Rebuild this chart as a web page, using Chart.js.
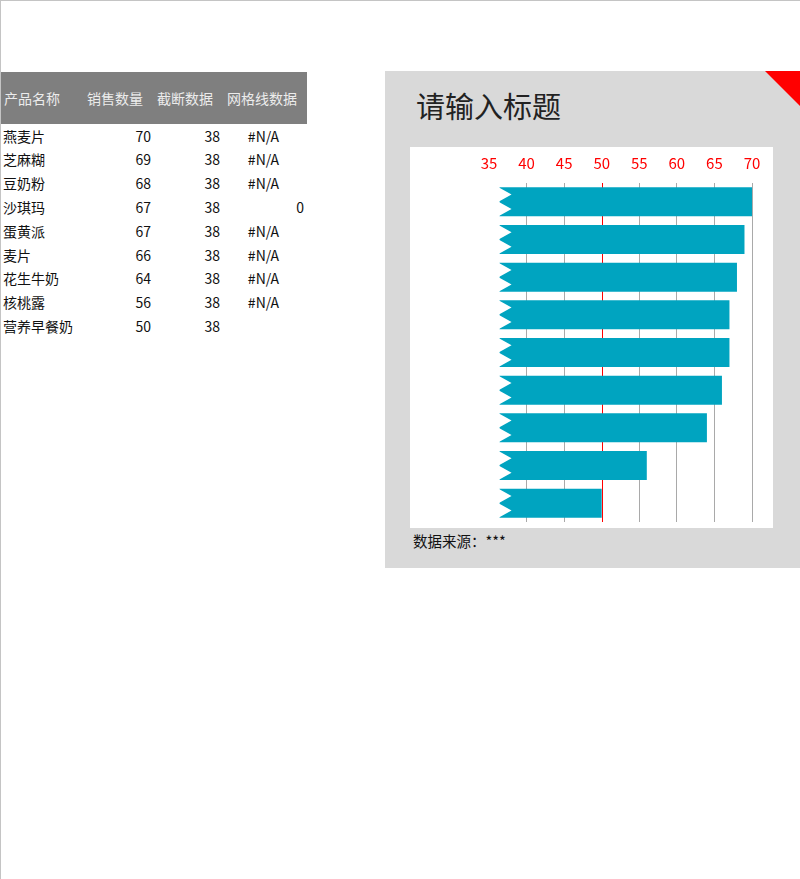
<!DOCTYPE html>
<html lang="zh-CN">
<head>
<meta charset="utf-8">
<title>请输入标题</title>
<script src="https://cdn.jsdelivr.net/npm/chart.js@4.4.1/dist/chart.umd.min.js"></script>
<style>
    html, body { margin: 0; padding: 0; background: #fff; }
    body {
        width: 800px; height: 879px; position: relative; overflow: hidden;
        font-family: 'Noto Sans CJK SC', 'Microsoft YaHei', sans-serif; color: #111;
    }
    .frame {
        position: absolute; left: 0; top: 0; width: 800px; height: 879px; box-sizing: border-box;
        border-top: 1px solid #c4c4c4; border-left: 1px solid #c4c4c4; pointer-events: none;
    }
    /* data sheet on the left */
    .sheet-head {
        position: absolute; left: 0; top: 72px; width: 307px; height: 52px; background: #7f7f7f;
    }
    .cell { position: absolute; font-size: 14px; white-space: nowrap; }
    .sheet-head .cell { color: #ececec; top: 0; line-height: 52px; }
    .row { position: absolute; left: 0; width: 307px; height: 24px; }
    .row .cell { top: 0; line-height: 24px; }
    /* chart panel */
    .panel {
        position: absolute; left: 385px; top: 71px; width: 415px; height: 497px; background: #d9d9d9;
    }
    .corner {
        position: absolute; right: 0; top: 0; width: 0; height: 0;
        border-top: 35px solid #ff0000; border-left: 35px solid transparent;
    }
    .title {
        position: absolute; left: 31px; top: 14px; font-size: 29px; line-height: 40px; color: #222;
    }
    .plot {
        position: absolute; left: 25px; top: 76px; width: 363px; height: 381px; background: #fff;
    }
    .source {
        position: absolute; left: 28px; top: 459px; font-size: 14.5px; line-height: 22px; color: #111;
    }
</style>
</head>
<body>
<div class="sheet-head" id="sheetHead"></div>
<div id="sheetRows"></div>

<div class="panel">
    <div class="corner"></div>
    <div class="title">请输入标题</div>
    <div class="plot"><canvas id="barChart"></canvas></div>
    <div class="source">数据来源：***</div>
</div>
<div class="frame"></div>

<script>
    // 表格 + 图表数据
    const tableHeaders = ['产品名称', '销售数量', '截断数据', '网格线数据'];
    const categories = ['燕麦片', '芝麻糊', '豆奶粉', '沙琪玛', '蛋黄派', '麦片', '花生牛奶', '核桃露', '营养早餐奶'];
    const salesValues = [70, 69, 68, 67, 67, 66, 64, 56, 50];
    const cutoffValues = [38, 38, 38, 38, 38, 38, 38, 38, 38];
    const gridlineValues = ['#N/A', '#N/A', '#N/A', 0, '#N/A', '#N/A', '#N/A', '#N/A', null];
    const axisTicks = [35, 40, 45, 50, 55, 60, 65, 70];
    const highlightTick = 50;
    const breakDepth = 1.6;   // 截断锯齿：柱子起点在截断值左边多少

    var BAR_COLOR = '#00a4c0';
    var GRID_COLOR = '#a9a9a9';
    var RED = '#ff0000';

    // ---- sheet ----
    var headCols = [
        { left: 4, width: 76, align: 'left' },
        { left: 84, width: 62, align: 'center' },
        { left: 154, width: 62, align: 'center' },
        { left: 224, width: 76, align: 'center' }
    ];
    var bodyCols = [
        { left: 3, width: 80, align: 'left' },
        { left: 84, width: 67, align: 'right' },
        { left: 154, width: 66, align: 'right' },
        { left: 224, width: 80, align: 'right' }
    ];

    function cell(parent, text, col) {
        var d = document.createElement('div');
        d.className = 'cell';
        d.style.left = col.left + 'px';
        d.style.width = col.width + 'px';
        d.style.textAlign = col.align;
        d.textContent = text;
        parent.appendChild(d);
    }

    var head = document.getElementById('sheetHead');
    tableHeaders.forEach(function (h, i) { cell(head, h, headCols[i]); });

    var rowsWrap = document.getElementById('sheetRows');
    categories.forEach(function (name, i) {
        var r = document.createElement('div');
        r.className = 'row';
        r.style.top = (123.5 + i * 23.8) + 'px';
        cell(r, name, bodyCols[0]);
        cell(r, String(salesValues[i]), bodyCols[1]);
        cell(r, String(cutoffValues[i]), bodyCols[2]);
        var g = gridlineValues[i];
        if (g !== null) {
            // Excel 错误值居中，数字右对齐
            var c = typeof g === 'number' ? bodyCols[3] : { left: 222, width: 83, align: 'center' };
            cell(r, String(g), c);
        }
        rowsWrap.appendChild(r);
    });

    // ---- chart ----
    // 红色参考线（在柱子下面）
    var highlightLine = {
        id: 'highlightLine',
        beforeDatasetsDraw: function (chart) {
            var xs = chart.scales.x, area = chart.chartArea, ctx = chart.ctx;
            var x = Math.round(xs.getPixelForValue(highlightTick)) + 0.5;
            ctx.save();
            ctx.strokeStyle = RED;
            ctx.lineWidth = 1;
            ctx.beginPath();
            ctx.moveTo(x, area.top);
            ctx.lineTo(x, area.bottom);
            ctx.stroke();
            ctx.restore();
        }
    };

    // 左端白色锯齿，表示坐标轴被截断
    var barBreak = {
        id: 'barBreak',
        afterDatasetsDraw: function (chart) {
            var meta = chart.getDatasetMeta(0);
            var xs = chart.scales.x;
            var ctx = chart.ctx;
            ctx.save();
            ctx.fillStyle = '#ffffff';
            meta.data.forEach(function (bar, i) {
                var p = bar.getProps(['y', 'height'], true);
                var left = xs.getPixelForValue(cutoffValues[i] - breakDepth) - 1;
                var tip = xs.getPixelForValue(cutoffValues[i]);
                var top = p.y - p.height / 2, h = p.height;
                ctx.beginPath();
                ctx.moveTo(left, top);
                ctx.lineTo(tip, top + h / 4);
                ctx.lineTo(left, top + h / 2);
                ctx.lineTo(tip, top + 3 * h / 4);
                ctx.lineTo(left, top + h);
                ctx.closePath();
                ctx.fill();
            });
            ctx.restore();
        }
    };

    new Chart(document.getElementById('barChart'), {
        type: 'bar',
        data: {
            labels: categories,
            datasets: [{
                label: tableHeaders[1],
                data: salesValues.map(function (v, i) { return [cutoffValues[i] - breakDepth, v]; }),
                backgroundColor: BAR_COLOR,
                borderWidth: 0,
                barPercentage: 0.77,
                categoryPercentage: 1
            }]
        },
        options: {
            indexAxis: 'y',
            responsive: true,
            maintainAspectRatio: false,
            animation: false,
            layout: { padding: { left: 79, right: 21, top: 0, bottom: 6 } },
            plugins: { legend: { display: false }, tooltip: { enabled: false } },
            scales: {
                x: {
                    position: 'top',
                    min: axisTicks[0],
                    max: axisTicks[axisTicks.length - 1],
                    afterBuildTicks: function (s) { s.ticks = axisTicks.map(function (v) { return { value: v }; }); },
                    afterFit: function (s) { s.height = 36; },
                    border: { display: false },
                    grid: {
                        drawTicks: false,
                        lineWidth: 1,
                        color: function (c) {
                            var v = c.tick ? c.tick.value : null;
                            if (v === axisTicks[0] || v === highlightTick) return 'rgba(0,0,0,0)';
                            return GRID_COLOR;
                        }
                    },
                    ticks: {
                        color: RED,
                        padding: 11,
                        maxRotation: 0,
                        font: { family: "'Noto Sans CJK SC', sans-serif", size: 15 }
                    }
                },
                y: { display: false }
            }
        },
        plugins: [highlightLine, barBreak]
    });
</script>
</body>
</html>
